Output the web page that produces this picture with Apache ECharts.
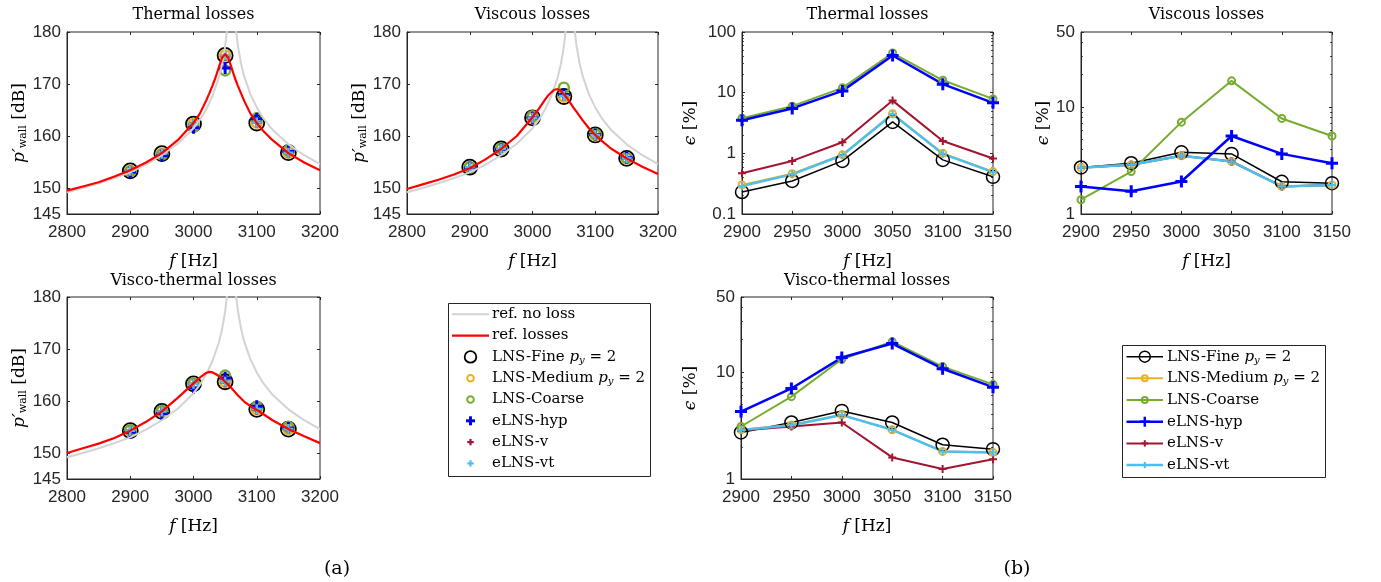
<!DOCTYPE html>
<html><head><meta charset="utf-8">
<script src="https://cdn.jsdelivr.net/npm/echarts@6/dist/echarts.min.js"></script>
<style>html,body{margin:0;padding:0;background:#fff}#c{width:1381px;height:582px}</style>
</head><body><div id="c"></div>
<script>
// ================= DATA =================
// reference curves (dB)
const fRef = [2800,2825,2850,2875,2900,2925,2950,2975,3000,3010,3020,3030,3040,3045,3050,3053,3055,3058,3062,3065,3067,3070,3075,3080,3090,3100,3110,3125,3150,3175,3200];
const refNoLoss = [149.2,150.0,150.9,151.9,153.0,154.5,156.3,158.5,161.5,163.1,165.1,167.7,171.2,173.7,177.2,180.4,183.3,191.4,191.5,183.5,180.6,177.5,174.0,171.5,168.0,165.5,163.5,161.2,158.4,156.3,154.6];
const fLoss = [2800,2825,2850,2875,2900,2925,2950,2975,3000,3010,3020,3025,3030,3035,3040,3045,3050,3055,3060,3065,3070,3080,3090,3100,3110,3125,3150,3175,3200];
const refThermal = [149.5,150.3,151.1,152.2,153.4,154.9,156.7,159.2,162.5,164.3,166.8,168.2,169.7,171.3,173.2,175.0,175.8,175.0,173.2,171.3,169.7,166.8,164.3,162.5,161.0,159.2,156.7,154.9,153.4];
const refViscous = [149.8,150.7,151.6,152.6,153.8,155.5,157.5,160.0,163.6,165.2,167.0,167.8,168.4,168.9,169.0,168.7,168.0,167.3,166.4,165.5,164.7,163.0,161.5,160.2,159.1,157.6,155.7,154.1,152.7];
const refViscoThermal = [150.0,150.9,151.8,152.9,154.3,156.0,158.0,160.6,163.4,164.5,165.4,165.6,165.5,165.2,164.8,164.3,163.7,163.1,162.5,161.8,161.1,159.9,159.0,158.3,157.5,156.3,154.6,153.2,151.9];

// simulation frequencies
const fPts = [2900,2950,3000,3050,3100,3150];

// p'_wall [dB] -- thermal losses
const dbThFine   = [153.3,156.6,162.3,175.5,162.5,156.8];
const dbThMedium = [153.3,156.6,162.3,175.5,162.6,156.8];
const dbThCoarse = [153.2,156.4,161.7,172.6,163.4,157.2];
const dbThHyp    = [153.1,156.2,161.6,173.1,163.3,157.0];
const dbThV      = [153.3,156.6,162.3,175.4,162.6,156.8];
const dbThVt     = [153.3,156.6,162.3,175.5,162.6,156.8];
// p'_wall [dB] -- viscous losses
const dbViFine   = [154.0,157.5,163.5,167.6,160.2,155.7];
const dbViMedium = [154.0,157.5,163.5,167.6,160.2,155.7];
const dbViCoarse = [154.0,157.6,163.8,169.3,160.4,155.8];
const dbViHyp    = [153.9,157.4,163.5,168.0,160.3,155.8];
const dbViV      = [154.0,157.5,163.5,167.7,160.2,155.7];
const dbViVt     = [154.0,157.5,163.5,167.7,160.2,155.7];
// p'_wall [dB] -- visco-thermal losses
const dbVtFine   = [154.3,158.0,163.3,163.7,158.4,154.6];
const dbVtMedium = [154.3,158.0,163.3,163.7,158.4,154.6];
const dbVtCoarse = [154.4,158.1,163.4,164.9,158.9,155.0];
const dbVtHyp    = [154.0,157.6,162.5,164.4,159.0,154.8];
const dbVtV      = [154.3,158.0,163.3,163.6,158.3,154.6];
const dbVtVt     = [154.3,158.0,163.3,163.7,158.4,154.6];

// error eps [%] -- thermal losses
const epsThFine   = [0.23,0.35,0.75,3.3,0.78,0.41];
const epsThMedium = [0.30,0.46,0.95,4.5,1.0,0.50];
const epsThCoarse = [3.8,6.0,12.0,45,16.0,7.9];
const epsThHyp    = [3.5,5.5,10.7,41,13.8,6.8];
const epsThV      = [0.47,0.75,1.52,7.4,1.6,0.82];
const epsThVt     = [0.29,0.45,0.93,4.4,0.98,0.49];
// error eps [%] -- viscous losses
const epsViFine   = [2.72,2.98,3.77,3.64,2.0,1.94];
const epsViMedium = [2.72,2.88,3.49,3.09,1.81,1.87];
const epsViCoarse = [1.36,2.49,7.2,17.5,7.8,5.35];
const epsViHyp    = [1.81,1.63,2.01,5.35,3.64,2.98];
const epsViV      = [2.70,2.88,3.49,3.09,1.81,1.87];
const epsViVt     = [2.70,2.88,3.49,3.09,1.81,1.87];
// error eps [%] -- visco-thermal losses
const epsVtFine   = [2.72,3.37,4.32,3.37,2.09,1.90];
const epsVtMedium = [2.88,3.20,3.97,2.88,1.81,1.77];
const epsVtCoarse = [3.09,5.87,13.1,19.1,11.2,7.65];
const epsVtHyp    = [4.26,7.0,13.6,18.4,10.7,7.2];
const epsVtV      = [2.84,3.09,3.37,1.59,1.24,1.53];
const epsVtVt     = [2.86,3.18,3.95,2.88,1.81,1.77];

// tick labels
const dbTicks = [145,150,160,170,180];
const epsTicksTh = [0.1,1,10,100];
const epsTicksVi = [1,10,50];
const epsMinorTh = [0.2,0.3,0.4,0.5,0.6,0.7,0.8,0.9,2,3,4,5,6,7,8,9,20,30,40,50,60,70,80,90];
const epsMinorVi = [2,3,4,5,6,7,8,9,20,30,40];

// texts
const panelTitles = ['Thermal losses','Viscous losses','Thermal losses','Viscous losses','Visco-thermal losses','Visco-thermal losses'];
const legendTexts1 = ['ref. no loss','ref. losses','LNS-Fine {i|p}{s|y} = 2','LNS-Medium {i|p}{s|y} = 2','LNS-Coarse','eLNS-hyp','eLNS-v','eLNS-vt'];
const legendTexts2 = ['LNS-Fine {i|p}{s|y} = 2','LNS-Medium {i|p}{s|y} = 2','LNS-Coarse','eLNS-hyp','eLNS-v','eLNS-vt'];
const subLabels = ['(a)','(b)'];

// ================= STYLE =================
const AX = '#262626';
const TICKF = 'Liberation Sans';
const SERIF = 'DejaVu Serif';
const COL = {fine:'#000000', medium:'#EDB120', coarse:'#77AC30', hyp:'#0000FF', v:'#A2142F', vt:'#4DBEEE', gray:'#D3D3D3', red:'#FF0000'};
const PLUS = 'path://M-1.5,-6H1.5V-1.5H6V1.5H1.5V6H-1.5V1.5H-6V-1.5H-1.5Z';

const nameRich = {
  i: {fontFamily: SERIF, fontStyle: 'italic', fontSize: 17, color: '#000'},
  s: {fontFamily: SERIF, fontSize: 11, color: '#000', padding: [8, 0, 0, 0]}
};
const nameStyle = {fontFamily: SERIF, fontSize: 17, color: '#000', rich: nameRich};

const grids = [
  {left: 67, top: 32, width: 253, height: 182},
  {left: 407, top: 32, width: 251, height: 182},
  {left: 742, top: 32, width: 251, height: 182},
  {left: 1081, top: 32, width: 251, height: 182},
  {left: 67, top: 297, width: 253, height: 182},
  {left: 741, top: 297, width: 252, height: 182}
].map(g => Object.assign({show: true, borderColor: AX, borderWidth: 1, backgroundColor: 'transparent', containLabel: false, outerBoundsMode: 'none'}, g));

const xAxes = [], yAxes = [], series = [];

function addX(gi, min, max, interval) {
  const idx = xAxes.length;
  xAxes.push({gridIndex: gi, type: 'value', position: 'bottom', min, max, interval,
    axisLine: {show: true, onZero: false, lineStyle: {color: AX, width: 1}},
    axisTick: {show: true, inside: true, length: 3, lineStyle: {color: AX}},
    axisLabel: {show: true, color: AX, fontFamily: TICKF, fontSize: 17, margin: 10, formatter: v => String(v)},
    splitLine: {show: false},
    name: '{i|f} [Hz]', nameLocation: 'middle', nameGap: 39, nameTextStyle: nameStyle});
  xAxes.push({gridIndex: gi, type: 'value', position: 'top', min, max, interval,
    axisLine: {show: false, onZero: false},
    axisTick: {show: true, inside: true, length: 3, lineStyle: {color: AX}},
    axisLabel: {show: false}, splitLine: {show: false}});
  return idx;
}
function addYLin(gi, nameGap) {
  const idx = yAxes.length;
  yAxes.push({gridIndex: gi, type: 'value', position: 'left', min: 145, max: 180,
    axisLine: {show: true, onZero: false, lineStyle: {color: AX, width: 1}},
    axisTick: {show: true, inside: true, length: 3, lineStyle: {color: AX}, customValues: dbTicks},
    axisLabel: {show: true, color: AX, fontFamily: TICKF, fontSize: 17, margin: 6, customValues: dbTicks},
    splitLine: {show: false},
    name: "{i|p′}{s|wall} [dB]", nameLocation: 'middle', nameGap, nameTextStyle: nameStyle});
  yAxes.push({gridIndex: gi, type: 'value', position: 'right', min: 145, max: 180,
    axisLine: {show: false, onZero: false},
    axisTick: {show: true, inside: true, length: 3, lineStyle: {color: AX}, customValues: dbTicks},
    axisLabel: {show: false}, splitLine: {show: false}});
  return idx;
}
function addYLog(gi, min, max, ticks, minor, nameGap) {
  const idx = yAxes.length;
  yAxes.push({gridIndex: gi, type: 'log', logBase: 10, position: 'left', min, max,
    axisLine: {show: true, onZero: false, lineStyle: {color: AX, width: 1}},
    axisTick: {show: true, inside: true, length: 3, lineStyle: {color: AX}, customValues: ticks},
    axisLabel: {show: true, color: AX, fontFamily: TICKF, fontSize: 17, margin: 6, customValues: ticks},
    splitLine: {show: false},
    name: '{i|ϵ} [%]', nameLocation: 'middle', nameGap, nameTextStyle: nameStyle});
  ['right', 'left', 'right'].forEach((pos, k) => {
    yAxes.push({gridIndex: gi, type: 'log', logBase: 10, position: pos, offset: 0, min, max,
      axisLine: {show: false, onZero: false},
      axisTick: {show: true, inside: true, length: k === 0 ? 3 : 1.8, lineStyle: {color: AX}, customValues: k === 0 ? ticks : minor},
      axisLabel: {show: false}, splitLine: {show: false}});
  });
  return idx;
}

const pair = (fs, vs) => fs.map((f, k) => [f, vs[k]]);

function refLine(xi, yi, fs, vs, color, width) {
  series.push({type: 'line', xAxisIndex: xi, yAxisIndex: yi, data: pair(fs, vs), symbol: 'none',
    lineStyle: {color, width}, itemStyle: {color}, clip: true, silent: true, emphasis: {disabled: true}});
}

// marker specs
const scatterSpec = {
  fine:   {symbol: 'circle', size: 15, border: 1.8},
  medium: {symbol: 'circle', size: 10, border: 2.6},
  coarse: {symbol: 'circle', size: 10, border: 2.4},
  hyp:    {symbol: PLUS, size: 12},
  v:      {symbol: PLUS, size: 10},
  vt:     {symbol: PLUS, size: 10}
};
const lineSpec = {
  fine:   {symbol: 'circle', size: 13, border: 1.5, width: 1.5},
  medium: {symbol: 'circle', size: 7, border: 2, width: 2},
  coarse: {symbol: 'circle', size: 7, border: 2, width: 2},
  hyp:    {symbol: PLUS, size: 12, width: 2.5},
  v:      {symbol: PLUS, size: 8, width: 2},
  vt:     {symbol: PLUS, size: 8, width: 2.5}
};
function itemStyleFor(key, spec) {
  return spec.symbol === 'circle'
    ? {color: 'rgba(0,0,0,0)', borderColor: COL[key], borderWidth: spec.border, opacity: 1}
    : {color: COL[key], borderWidth: 0, opacity: 1};
}
function scatterSet(xi, yi, sets) {
  Object.keys(sets).forEach(key => {
    const sp = scatterSpec[key];
    series.push({type: 'scatter', xAxisIndex: xi, yAxisIndex: yi, data: pair(fPts, sets[key]),
      symbol: sp.symbol, symbolSize: sp.size, itemStyle: itemStyleFor(key, sp), clip: false, silent: true, emphasis: {disabled: true}});
  });
}
function lineSet(xi, yi, sets) {
  Object.keys(sets).forEach(key => {
    const sp = lineSpec[key];
    series.push({type: 'line', xAxisIndex: xi, yAxisIndex: yi, data: pair(fPts, sets[key]),
      symbol: sp.symbol, symbolSize: sp.size, showSymbol: true, showAllSymbol: true,
      lineStyle: {color: COL[key], width: sp.width}, itemStyle: itemStyleFor(key, sp),
      clip: false, silent: true, emphasis: {disabled: true}});
  });
}

// ---- panel 1: thermal dB
let xi = addX(0, 2800, 3200, 100), yi = addYLin(0, 27);
refLine(xi, yi, fRef, refNoLoss, COL.gray, 2);
refLine(xi, yi, fLoss, refThermal, COL.red, 2.2);
scatterSet(xi, yi, {fine: dbThFine, medium: dbThMedium, coarse: dbThCoarse, hyp: dbThHyp, v: dbThV, vt: dbThVt});
// ---- panel 2: viscous dB
xi = addX(1, 2800, 3200, 100); yi = addYLin(1, 27);
refLine(xi, yi, fRef, refNoLoss, COL.gray, 2);
refLine(xi, yi, fLoss, refViscous, COL.red, 2.2);
scatterSet(xi, yi, {fine: dbViFine, medium: dbViMedium, coarse: dbViCoarse, hyp: dbViHyp, v: dbViV, vt: dbViVt});
// ---- panel 3: thermal eps
xi = addX(2, 2900, 3150, 50); yi = addYLog(2, 0.1, 100, epsTicksTh, epsMinorTh, 43);
lineSet(xi, yi, {fine: epsThFine, medium: epsThMedium, coarse: epsThCoarse, hyp: epsThHyp, v: epsThV, vt: epsThVt});
// ---- panel 4: viscous eps
xi = addX(3, 2900, 3150, 50); yi = addYLog(3, 1, 50, epsTicksVi, epsMinorVi, 28);
lineSet(xi, yi, {fine: epsViFine, medium: epsViMedium, coarse: epsViCoarse, v: epsViV, vt: epsViVt, hyp: epsViHyp});
// ---- panel 5: visco-thermal dB
xi = addX(4, 2800, 3200, 100); yi = addYLin(4, 27);
refLine(xi, yi, fRef, refNoLoss, COL.gray, 2);
refLine(xi, yi, fLoss, refViscoThermal, COL.red, 2.2);
scatterSet(xi, yi, {fine: dbVtFine, medium: dbVtMedium, coarse: dbVtCoarse, hyp: dbVtHyp, v: dbVtV, vt: dbVtVt});
// ---- panel 6: visco-thermal eps
xi = addX(5, 2900, 3150, 50); yi = addYLog(5, 1, 50, epsTicksVi, epsMinorVi, 42);
lineSet(xi, yi, {fine: epsVtFine, medium: epsVtMedium, coarse: epsVtCoarse, hyp: epsVtHyp, v: epsVtV, vt: epsVtVt});

// ================= GRAPHIC (titles, legends, sub-labels) =================
const graphic = [];
const titlePos = [[193.5, 15], [532.5, 15], [867.5, 15], [1206.5, 15], [193.5, 281], [867, 281]];
panelTitles.forEach((t, k) => graphic.push({type: 'text', x: titlePos[k][0], y: titlePos[k][1], silent: true,
  style: {text: t, fontFamily: SERIF, fontSize: 16, fill: '#000', align: 'center', verticalAlign: 'middle'}}));

const legRich = {
  i: {fontFamily: SERIF, fontStyle: 'italic', fontSize: 15, color: '#000'},
  s: {fontFamily: SERIF, fontStyle: 'italic', fontSize: 10, color: '#000', padding: [7, 0, 0, 0]}
};
function legendBox(x, y, w, h) {
  graphic.push({type: 'rect', shape: {x, y, width: w, height: h}, silent: true, z: 10,
    style: {fill: '#fff', stroke: AX, lineWidth: 1}});
}
function legText(x, y, t) {
  graphic.push({type: 'text', x, y, silent: true, z: 12,
    style: {text: t, fontFamily: SERIF, fontSize: 15, fill: '#000', align: 'left', verticalAlign: 'middle', rich: legRich}});
}
function legLine(x1, x2, y, color, width) {
  graphic.push({type: 'line', shape: {x1, y1: y, x2, y2: y}, silent: true, z: 11, style: {stroke: color, lineWidth: width}});
}
function legCircle(cx, cy, r, color, lw) {
  graphic.push({type: 'circle', shape: {cx, cy, r}, silent: true, z: 12, style: {fill: 'none', stroke: color, lineWidth: lw}});
}
function legPlus(cx, cy, half, color, lw) {
  graphic.push({type: 'line', shape: {x1: cx - half, y1: cy, x2: cx + half, y2: cy}, silent: true, z: 12, style: {stroke: color, lineWidth: lw}});
  graphic.push({type: 'line', shape: {x1: cx, y1: cy - half, x2: cx, y2: cy + half}, silent: true, z: 12, style: {stroke: color, lineWidth: lw}});
}
// legend 1 (dB panels)
legendBox(448.5, 303.5, 202, 173);
(function () {
  const x1 = 452, x2 = 489, cx = 470.5, tx = 492, y0 = 314.3, dy = 21.3;
  const y = k => y0 + k * dy;
  legLine(x1, x2, y(0), COL.gray, 2);
  legLine(x1, x2, y(1), COL.red, 2.2);
  legCircle(cx, y(2), 5.8, COL.fine, 1.8);
  legCircle(cx, y(3), 3.3, COL.medium, 2);
  legCircle(cx, y(4), 3.3, COL.coarse, 2);
  legPlus(cx, y(5), 4.5, COL.hyp, 3);
  legPlus(cx, y(6), 3.2, COL.v, 2.2);
  legPlus(cx, y(7), 3.2, COL.vt, 2.2);
  legendTexts1.forEach((t, k) => legText(tx, y(k), t));
})();
// legend 2 (error panels)
legendBox(1122.5, 345.5, 203, 132);
(function () {
  const x1 = 1126.5, x2 = 1163, cx = 1144.8, tx = 1167, y0 = 356.7, dy = 21.67;
  const y = k => y0 + k * dy;
  legLine(x1, x2, y(0), COL.fine, 1.5);  legCircle(cx, y(0), 5.5, COL.fine, 1.5);
  legLine(x1, x2, y(1), COL.medium, 2);  legCircle(cx, y(1), 3, COL.medium, 2);
  legLine(x1, x2, y(2), COL.coarse, 2);  legCircle(cx, y(2), 3, COL.coarse, 2);
  legLine(x1, x2, y(3), COL.hyp, 2.5);   legPlus(cx, y(3), 5, COL.hyp, 2.5);
  legLine(x1, x2, y(4), COL.v, 2);       legPlus(cx, y(4), 3.2, COL.v, 2);
  legLine(x1, x2, y(5), COL.vt, 2.5);    legPlus(cx, y(5), 3.2, COL.vt, 2);
  legendTexts2.forEach((t, k) => legText(tx, y(k), t));
})();
// (a), (b)
[[337, 569], [1017, 569]].forEach((p, k) => graphic.push({type: 'text', x: p[0], y: p[1], silent: true,
  style: {text: subLabels[k], fontFamily: SERIF, fontSize: 19, fill: '#000', align: 'center', verticalAlign: 'middle'}}));

const chart = echarts.init(document.getElementById('c'), null, {renderer: 'canvas'});
chart.setOption({
  animation: false,
  backgroundColor: '#ffffff',
  grid: grids,
  xAxis: xAxes,
  yAxis: yAxes,
  series,
  graphic
});
</script>
</body></html>
